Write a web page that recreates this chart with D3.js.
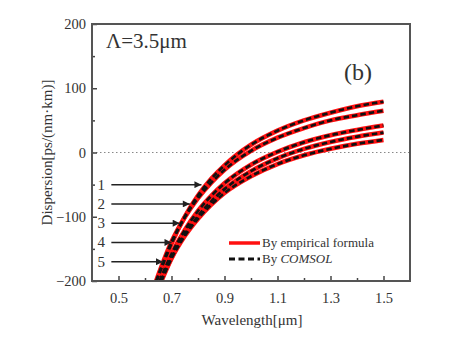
<!DOCTYPE html>
<html>
<head>
<meta charset="utf-8">
<script src="https://cdn.jsdelivr.net/npm/d3@7"></script>
<style>
  html, body { margin: 0; padding: 0; background: #fff; }
  svg { display: block; }
  text { font-family: "Liberation Serif", "DejaVu Serif", serif; fill: #333; }
</style>
</head>
<body>
<svg id="chart" width="474" height="342"></svg>
<script>
// Dispersion curves of five fibre designs (Λ = 3.5 µm)
const wlGrid = [0.70, 0.75, 0.80, 0.85, 0.90, 1.00, 1.10, 1.20, 1.30, 1.40, 1.50];
const wlAtFloor = [0.644, 0.642, 0.655, 0.660, 0.662];   // wavelength where each curve leaves the -200 floor
const disp1 = [-142, -100, -67, -41, -20, 12, 34, 50, 62, 72, 79];
const disp2 = [-139, -101, -71, -47, -27, 2.5, 23, 38, 50, 58, 65];
const disp3 = [-158, -121, -91, -67.5, -48, -19, 1, 16, 27, 35, 42];
const disp4 = [-163.5, -127, -99, -76, -57, -29, -9, 5.6, 16.4, 24.6, 31];
const disp5 = [-165, -130, -103, -81, -63, -37, -18, -4.4, 5.7, 13.5, 19.5];
const curves = [disp1, disp2, disp3, disp4, disp5];

// Numbered arrows pointing at the curve family
const arrowLabels = ["1", "2", "3", "4", "5"];
const arrowDisp = [-50, -80, -110, -140, -170];
const arrowEndWl = [0.813, 0.769, 0.731, 0.700, 0.668];
const arrowStartWl = 0.473;

const xTicks = [0.5, 0.7, 0.9, 1.1, 1.3, 1.5];
const xMinorTicks = [0.6, 0.8, 1.0, 1.2, 1.4];
const yTicks = [-200, -100, 0, 100, 200];
const yMinorTicks = [-150, -50, 50, 150];

const serif = "'Liberation Serif', 'DejaVu Serif', serif";
const svg = d3.select("#chart");
const m = { left: 92, right: 410, top: 24, bottom: 281 };

const x = d3.scaleLinear().domain([0.4, 1.6]).range([m.left, m.right]);
const y = d3.scaleLinear().domain([-200, 200]).range([m.bottom, m.top]);

const defs = svg.append("defs");
defs.append("clipPath").attr("id", "plot")
  .append("rect").attr("x", m.left).attr("y", m.top)
  .attr("width", m.right - m.left).attr("height", m.bottom - m.top);

defs.append("marker")
  .attr("id", "head").attr("viewBox", "0 0 10 10")
  .attr("refX", 10).attr("refY", 5)
  .attr("markerWidth", 10).attr("markerHeight", 7)
  .attr("markerUnits", "userSpaceOnUse")
  .attr("orient", "auto")
  .append("path").attr("d", "M0,0 L10,5 L0,10 Z").attr("fill", "#222");

// zero reference line
svg.append("line")
  .attr("x1", m.left).attr("x2", m.right)
  .attr("y1", y(0)).attr("y2", y(0))
  .attr("stroke", "#888").attr("stroke-width", 1)
  .attr("stroke-dasharray", "1.5,2.5");

// axes with inward ticks
const tickColor = "#444";
function styleAxis(g) {
  g.select(".domain").remove();
  g.selectAll("line").attr("stroke", tickColor).attr("stroke-width", 1.5);
  g.selectAll("text").attr("font-size", 14.5).attr("fill", "#444")
    .attr("font-family", serif);
}

svg.append("g").attr("transform", `translate(0,${m.bottom})`)
  .call(d3.axisBottom(x).tickValues(xTicks).tickSize(-5).tickPadding(12)
    .tickFormat(d3.format(".1f")))
  .call(styleAxis);
svg.append("g").attr("transform", `translate(0,${m.bottom})`)
  .call(d3.axisBottom(x).tickValues(xMinorTicks).tickSize(-3).tickFormat(""))
  .call(styleAxis);
svg.append("g").attr("transform", `translate(${m.left},0)`)
  .call(d3.axisLeft(y).tickValues(yTicks).tickSize(-5).tickPadding(6))
  .call(styleAxis);
svg.append("g").attr("transform", `translate(${m.left},0)`)
  .call(d3.axisLeft(y).tickValues(yMinorTicks).tickSize(-3).tickFormat(""))
  .call(styleAxis);

// dispersion curves: red solid with black dashed overlay
const line = d3.line()
  .x(d => x(d[0])).y(d => y(d[1]))
  .curve(d3.curveMonotoneX);

const curveData = curves.map((c, i) =>
  [[wlAtFloor[i], -200]].concat(wlGrid.map((w, j) => [w, c[j]])));

const plot = svg.append("g").attr("clip-path", "url(#plot)");
plot.selectAll("path.empirical").data(curveData).join("path")
  .attr("class", "empirical")
  .attr("d", line).attr("fill", "none")
  .attr("stroke", "#ff1010").attr("stroke-width", 4.6);
plot.selectAll("path.comsol").data(curveData).join("path")
  .attr("class", "comsol")
  .attr("d", line).attr("fill", "none")
  .attr("stroke", "#111").attr("stroke-width", 2.7)
  .attr("stroke-dasharray", "5.5,3");

// frame
svg.append("rect")
  .attr("x", m.left).attr("y", m.top)
  .attr("width", m.right - m.left).attr("height", m.bottom - m.top)
  .attr("fill", "none").attr("stroke", "#555").attr("stroke-width", 2);

// numbered arrows
const arrows = svg.append("g");
arrowLabels.forEach((lab, i) => {
  arrows.append("line")
    .attr("x1", x(arrowStartWl)).attr("x2", x(arrowEndWl[i]))
    .attr("y1", y(arrowDisp[i])).attr("y2", y(arrowDisp[i]))
    .attr("stroke", "#222").attr("stroke-width", 1.5)
    .attr("marker-end", "url(#head)");
  arrows.append("text")
    .attr("x", x(arrowStartWl) - 10).attr("y", y(arrowDisp[i]) + 5)
    .attr("text-anchor", "middle").attr("font-size", 15)
    .attr("font-family", serif)
    .text(lab);
});

// legend
const lg = svg.append("g");
lg.append("line").attr("x1", 229).attr("x2", 260).attr("y1", 243).attr("y2", 243)
  .attr("stroke", "#ff1010").attr("stroke-width", 3.5);
lg.append("text").attr("x", 262).attr("y", 247).attr("font-size", 13)
  .attr("font-family", serif).text("By empirical formula");
lg.append("line").attr("x1", 229).attr("x2", 260).attr("y1", 259).attr("y2", 259)
  .attr("stroke", "#111").attr("stroke-width", 3).attr("stroke-dasharray", "6,3.5");
const t2 = lg.append("text").attr("x", 262).attr("y", 263).attr("font-size", 13)
  .attr("font-family", serif);
t2.append("tspan").text("By ");
t2.append("tspan").attr("font-style", "italic").text("COMSOL");

// annotations
svg.append("text").attr("x", 106).attr("y", 48).attr("font-size", 21)
  .attr("font-family", serif).text("Λ=3.5μm");
svg.append("text").attr("x", 344).attr("y", 80).attr("font-size", 24)
  .attr("font-family", serif).text("(b)");

// axis titles
svg.append("text").attr("x", 252).attr("y", 325).attr("text-anchor", "middle")
  .attr("font-size", 15).attr("font-family", serif).text("Wavelength[μm]");
svg.append("text")
  .attr("transform", `translate(52,${(m.top + m.bottom) / 2}) rotate(-90)`)
  .attr("text-anchor", "middle").attr("font-size", 15)
  .attr("font-family", serif)
  .text("Dispersion[ps/(nm·km)]");
</script>
</body>
</html>
